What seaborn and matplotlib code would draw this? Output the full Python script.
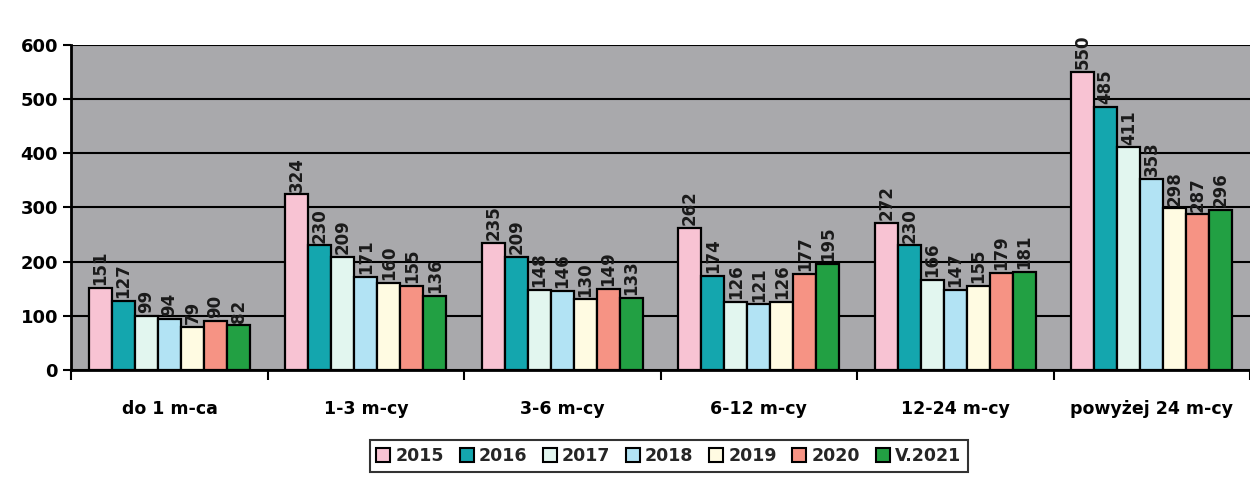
import pandas as pd
import numpy as np
import matplotlib.pyplot as plt
import seaborn as sns

sns.set_theme(style='white')
plt.rcParams['font.family'] = ['DejaVu Sans']

categories = ['do 1 m-ca', '1-3 m-cy', '3-6 m-cy', '6-12 m-cy', '12-24 m-cy', 'powyżej 24 m-cy']
years = ['2015', '2016', '2017', '2018', '2019', '2020', 'V.2021']
v2015 = [151, 324, 235, 262, 272, 550]
v2016 = [127, 230, 209, 174, 230, 485]
v2017 = [99, 209, 148, 126, 166, 411]
v2018 = [94, 171, 146, 121, 147, 353]
v2019 = [79, 160, 130, 126, 155, 298]
v2020 = [90, 155, 149, 177, 179, 287]
v2021 = [82, 136, 133, 195, 181, 296]
colors = ['#f8c3d3', '#14a6ae', '#e2f6ef', '#b2e3f4', '#fffbe2', '#f69384', '#22a043']

series = [v2015, v2016, v2017, v2018, v2019, v2020, v2021]
df = pd.DataFrame([
    {'kat': c, 'rok': y, 'val': v}
    for y, vals in zip(years, series)
    for c, v in zip(categories, vals)
])

fig = plt.figure(figsize=(12.5, 4.79), dpi=100)
ax = fig.add_axes([0.057, 0.228, 0.943, 0.678])
ax.set_facecolor('#a9a9ac')

sns.barplot(data=df, x='kat', y='val', hue='rok', order=categories, hue_order=years,
            palette=colors, width=0.82, gap=0, edgecolor='black', linewidth=1.6,
            saturation=1, ax=ax, zorder=3)

# rotated value labels above each bar
for c in ax.containers:
    ax.bar_label(c, labels=[f'{int(v)}' for v in c.datavalues], rotation=90,
                 padding=2, fontsize=12, fontweight='bold', color='#1a1a1a')

ax.set_ylim(0, 600)
ax.set_yticks(range(0, 601, 100))
ax.set_xlim(-0.5, 5.5)
ax.yaxis.grid(True, color='black', linewidth=1.5, zorder=1)
ax.set_axisbelow(True)
for s in ['top', 'right']:
    ax.spines[s].set_visible(False)
ax.spines['left'].set_color('black')
ax.spines['left'].set_linewidth(2)
ax.spines['bottom'].set_color('black')
ax.spines['bottom'].set_linewidth(2)

ax.set_xlabel('')
ax.set_ylabel('')
ax.tick_params(axis='x', length=0, pad=22, labelsize=12.5, labelcolor='black')
ax.tick_params(axis='y', length=6, width=1.5, color='black', labelsize=13, left=True,
               direction='out', labelcolor='black')
ax.set_xticks(np.arange(-0.5, 6.0, 1), minor=True)
ax.tick_params(axis='x', which='minor', length=7, width=1.5, color='black', bottom=True, direction='out')
for t in ax.get_xticklabels() + ax.get_yticklabels():
    t.set_fontweight('bold')

ax.get_legend().remove()
handles = [plt.Rectangle((0, 0), 1, 1, facecolor=col, edgecolor='black', linewidth=1.5) for col in colors]
leg = fig.legend(handles, years, loc='center', bbox_to_anchor=(0.535, 0.048), ncol=7,
                 frameon=True, fancybox=False, edgecolor='black', handlelength=0.8,
                 handleheight=0.8, handletextpad=0.3, columnspacing=0.9,
                 prop={'weight': 'bold', 'size': 12.5}, borderpad=0.4)
leg.get_frame().set_linewidth(1.5)

plt.savefig('out.png', dpi=100)
